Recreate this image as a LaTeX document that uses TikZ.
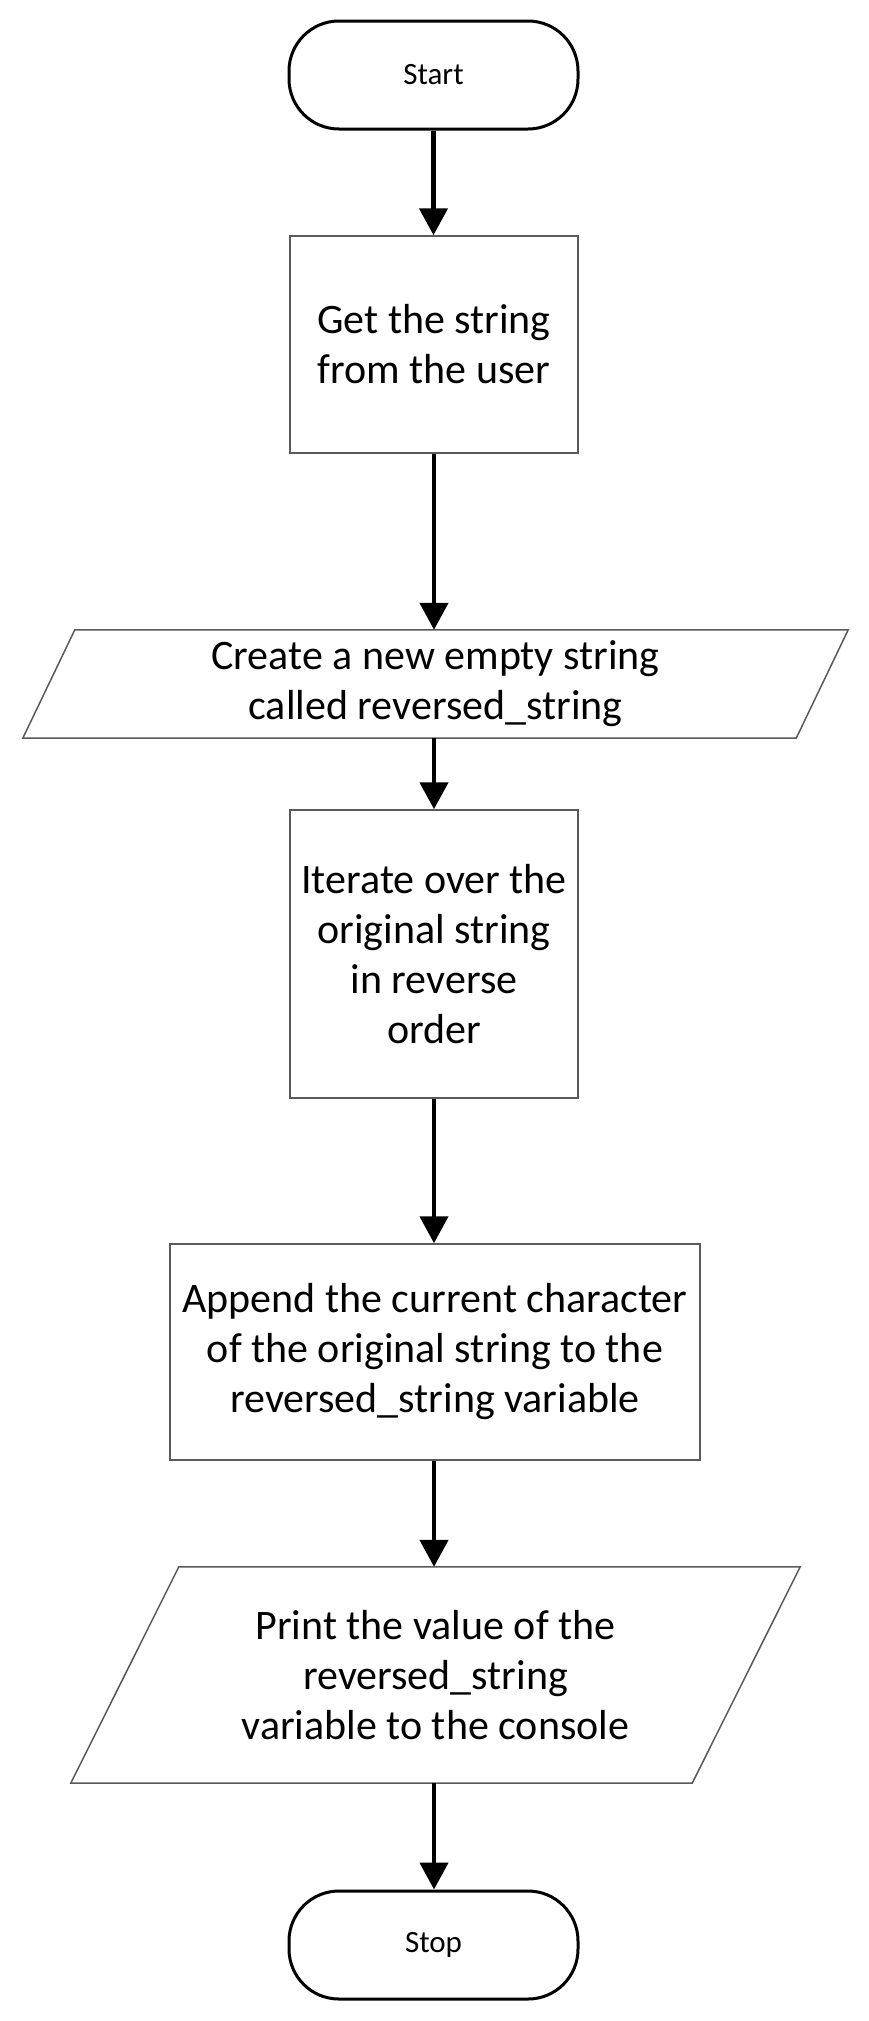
\documentclass[tikz,border=0pt]{standalone}
\usepackage{fontspec}
\setmainfont{Carlito}
\usetikzlibrary{arrows.meta}
\definecolor{boxgray}{RGB}{90,90,90}
\begin{document}
\begin{tikzpicture}[x=1pt,y=-1pt,
  term/.style={draw=black, line width=3pt, rounded corners=50pt, minimum width=289pt, minimum height=108pt, inner sep=0pt, font=\fontsize{31}{38}\selectfont},
  procbox/.style={draw=boxgray, line width=1.5pt, inner sep=0pt, align=center, font=\fontsize{42}{50}\selectfont},
  iobox/.style={inner sep=0pt, align=center, font=\fontsize{42}{50}\selectfont},
  iooutline/.style={draw=boxgray, line width=1.5pt, line join=miter},
  flow/.style={line width=4.5pt, -{Triangle[width=28pt,length=27pt]}}
]
\useasboundingbox[fill=white] (0,0) rectangle (868,2021);

\node[term] (start) at (433.5,75) {Start};
\node[procbox, minimum width=288pt, minimum height=217pt] (b1) at (434,344.5) {Get the string\\from the user};
\node[iobox, minimum width=825pt, minimum height=108pt] (p1) at (435.5,684) {Create a new empty string\\called reversed\_string};
\node[procbox, minimum width=288pt, minimum height=288pt] (b2) at (434,954) {Iterate over the\\original string\\in reverse\\order};
\node[procbox, minimum width=530pt, minimum height=216pt] (b3) at (435,1352) {Append the current character\\of the original string to the\\reversed\_string variable};
\node[iobox, minimum width=729pt, minimum height=216pt] (p2) at (435.5,1675) {Print the value of the\\reversed\_string\\variable to the console};
\node[term] (stop) at (433.5,1945) {Stop};

\draw[iooutline] ([xshift=52pt]p1.north west) -- (p1.north east) -- ([xshift=-52pt]p1.south east) -- (p1.south west) -- cycle;
\draw[iooutline] ([xshift=108pt]p2.north west) -- (p2.north east) -- ([xshift=-108pt]p2.south east) -- (p2.south west) -- cycle;

\draw[flow] (start.south) -- (start.south |- b1.north);
\draw[flow] (b1.south) -- (b1.south |- p1.north);
\draw[flow] (b1.south |- p1.south) -- (b2.north);
\draw[flow] (b2.south) -- (b2.south |- b3.north);
\draw[flow] (b2.south |- b3.south) -- (b2.south |- p2.north);
\draw[flow] (b2.south |- p2.south) -- (b2.south |- stop.north);
\end{tikzpicture}
\end{document}
